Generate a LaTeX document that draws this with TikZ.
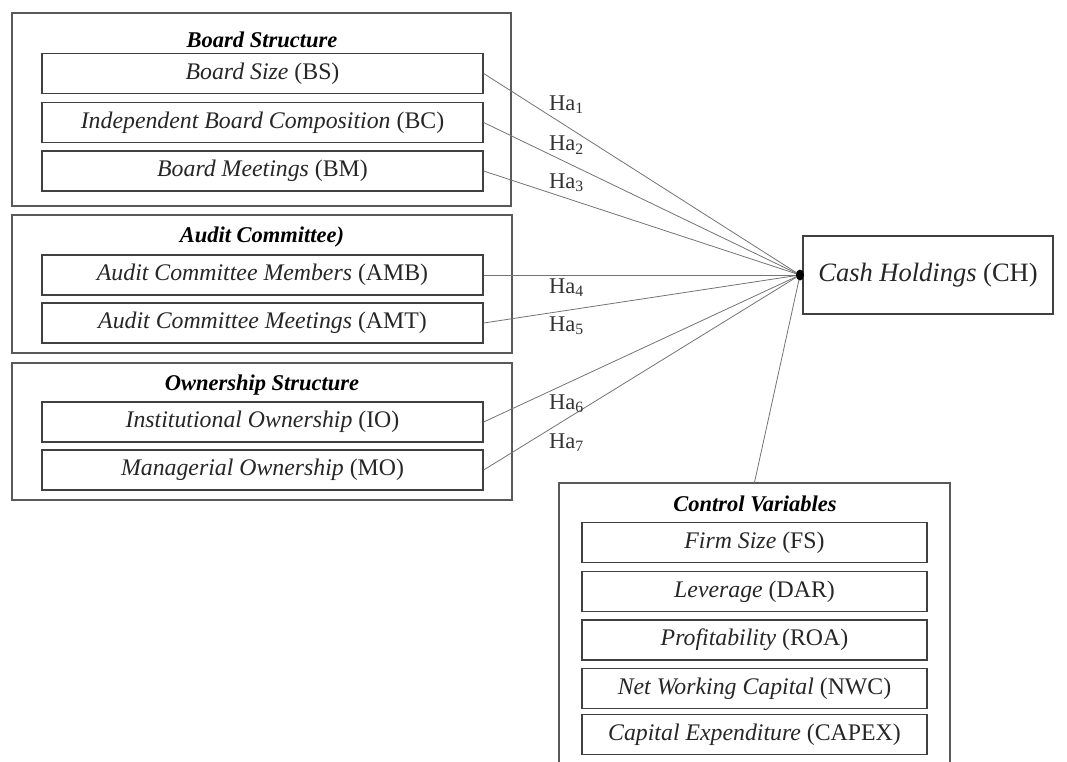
\documentclass[tikz,border=0pt]{standalone}
\usepackage{fontspec}
\setmainfont{Liberation Serif}
\tikzset{
  frame/.style={draw=black!65, line width=1.3pt, inner sep=0pt},
  var/.style={draw=black!75, line width=1.3pt, inner sep=0pt, minimum width=441pt, minimum height=40pt, font=\fontsize{23.8}{25}\selectfont, text=black!85},
  cvar/.style={var, minimum width=345pt},
  head/.style={inner sep=0pt, font=\fontsize{22.5}{24}\selectfont\bfseries\itshape},
  link/.style={draw=black!55, line width=0.8pt},
  hyp/.style={anchor=west, inner sep=0pt, font=\fontsize{22.5}{24}\selectfont, text=black!80}
}
\begin{document}
\begin{tikzpicture}[x=1pt,y=-1pt]
\useasboundingbox (0,0) rectangle (1067,761);
\clip (0,0) rectangle (1067,761);
% group frames
\node[frame, minimum width=499pt, minimum height=193pt] (board) at (261.5,109.5) {};
\node[frame, minimum width=500pt, minimum height=138pt] (audit) at (262,284) {};
\node[frame, minimum width=500pt, minimum height=137pt] (owner) at (262,431.5) {};
\node[frame, minimum width=391pt, minimum height=317pt] (ctrl) at (754.5,641.5) {};
% group titles
\node[head] (tboard) at (262,40) {Board Structure};
\node[head] (taudit) at (262,237) {Audit Committee)};
\node[head] (towner) at (262,385) {Ownership Structure};
\node[head] (tctrl) at (755,504) {Control Variables};
% variables
\node[var] (bs) at (262.5,73.5) {\textit{Board Size} (BS)};
\node[var] (bc) at (262.5,122.5) {\textit{Independent Board Composition} (BC)};
\node[var] (bm) at (262.5,171) {\textit{Board Meetings} (BM)};
\node[var] (amb) at (262.5,275) {\textit{Audit Committee Members} (AMB)};
\node[var] (amt) at (262.5,323) {\textit{Audit Committee Meetings} (AMT)};
\node[var] (io) at (262.5,422) {\textit{Institutional Ownership} (IO)};
\node[var] (mo) at (262.5,470) {\textit{Managerial Ownership} (MO)};
\node[cvar] (fs) at (754.5,542.5) {\textit{Firm Size} (FS)};
\node[cvar] (dar) at (754.5,591.5) {\textit{Leverage} (DAR)};
\node[cvar] (roa) at (754.5,640) {\textit{Profitability} (ROA)};
\node[cvar] (nwc) at (754.5,688.5) {\textit{Net Working Capital} (NWC)};
\node[cvar] (capex) at (754.5,734.5) {\textit{Capital Expenditure} (CAPEX)};
% dependent variable
\node[frame, draw=black!75, minimum width=250pt, minimum height=78pt, font=\fontsize{26.5}{28}\selectfont, text=black!85] (ch) at (928,275) {\textit{Cash Holdings} (CH)};
\coordinate (hub) at (800,275);
% connectors
\foreach \v in {bs,bc,bm,amb,amt,io,mo}
  \draw[link] (\v.east) -- (hub);
\draw[link] (ctrl.north) -- (hub);
\fill (hub) ellipse (4 and 5.5);
% hypothesis labels
\node[hyp] (ha1) at (549,105) {Ha\textsubscript{1}};
\node[hyp] (ha2) at (549,145) {Ha\textsubscript{2}};
\node[hyp] (ha3) at (549,183) {Ha\textsubscript{3}};
\node[hyp] (ha4) at (549,288) {Ha\textsubscript{4}};
\node[hyp] (ha5) at (549,326) {Ha\textsubscript{5}};
\node[hyp] (ha6) at (549,404) {Ha\textsubscript{6}};
\node[hyp] (ha7) at (549,443) {Ha\textsubscript{7}};
\end{tikzpicture}
\end{document}
